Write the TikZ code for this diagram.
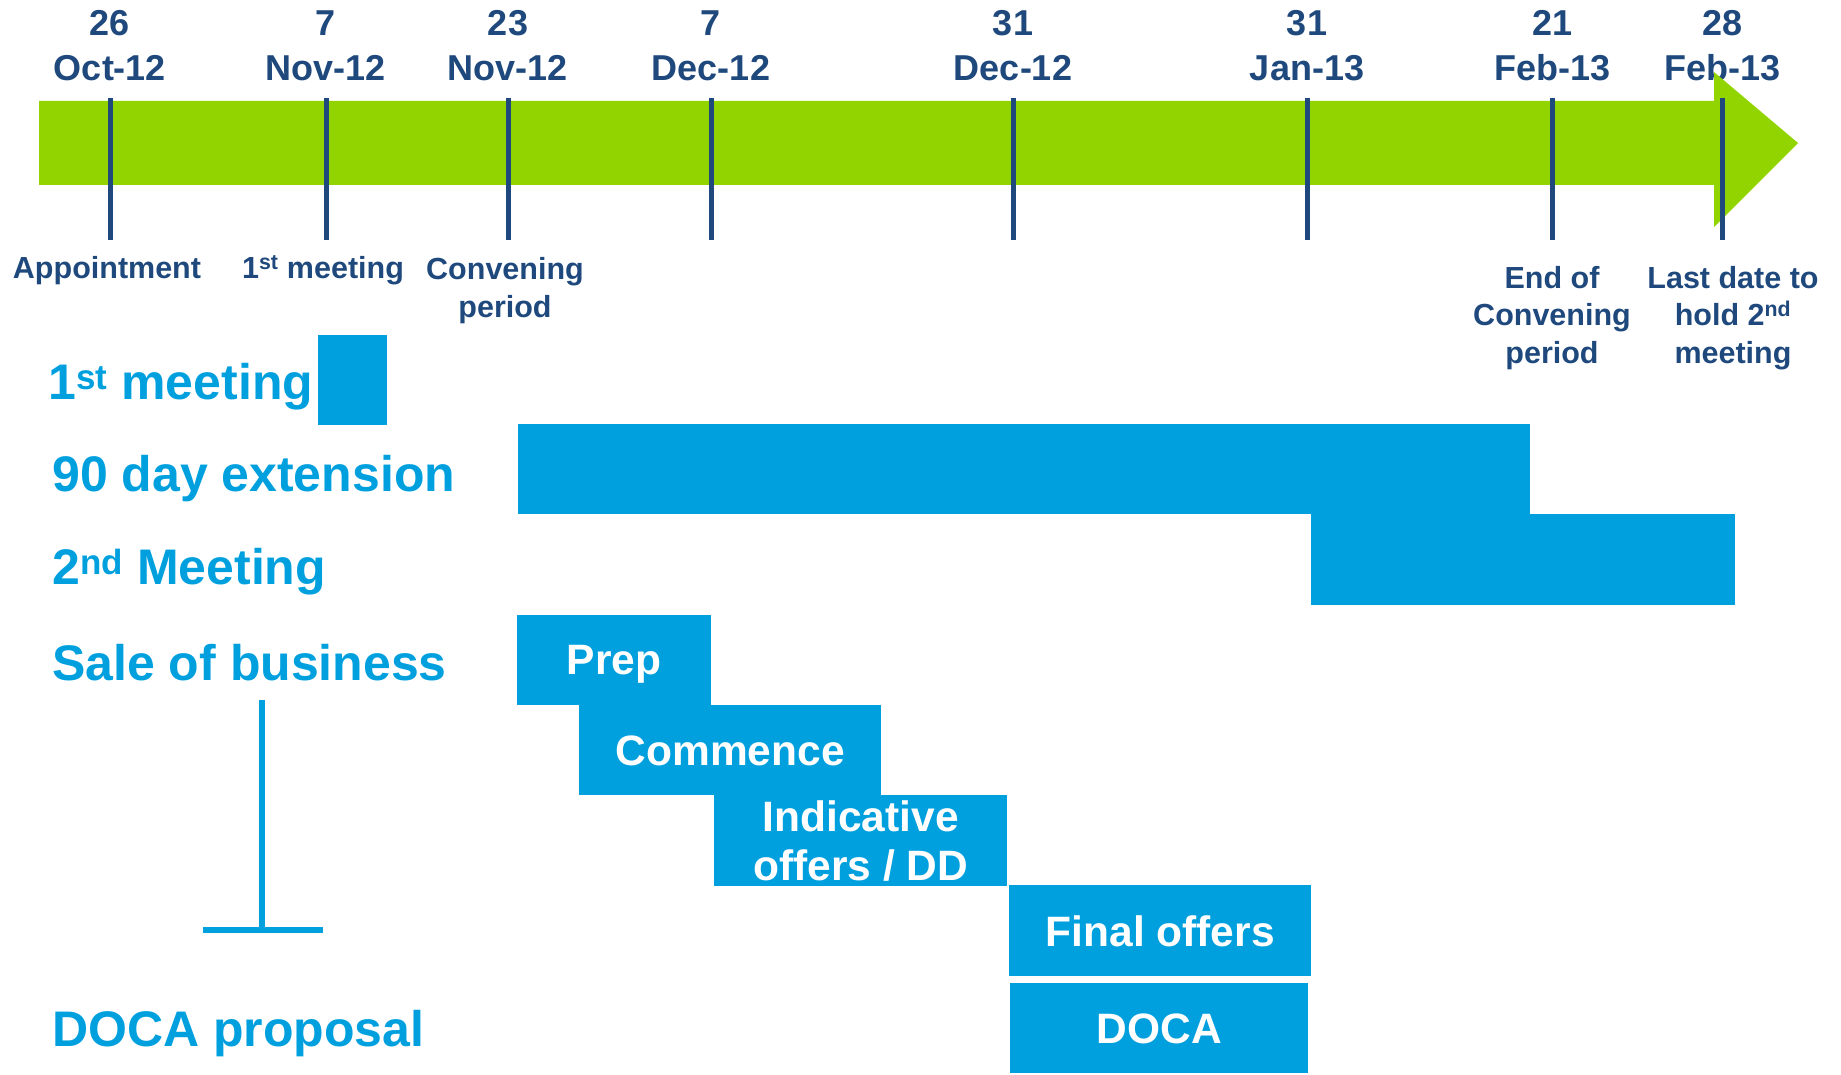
\documentclass[tikz,border=0pt]{standalone}
\usepackage{fontspec}
\setmainfont{Liberation Sans}
\definecolor{tlnavy}{RGB}{31,73,125}
\definecolor{tlgreen}{RGB}{146,212,0}
\definecolor{tlblue}{RGB}{0,160,223}
\tikzset{
every picture/.style={
x=1pt, y=-1pt
},
datelbl/.style={tlnavy, font=\fontsize{36}{36}\selectfont\bfseries, anchor=base, inner sep=0pt},
eventlbl/.style={tlnavy, font=\fontsize{30.5}{37.5}\selectfont\bfseries, anchor=base, align=center, inner sep=0pt},
rowlbl/.style={tlblue, font=\fontsize{50}{50}\selectfont\bfseries, anchor=base west, inner sep=0pt},
bar/.style={fill=tlblue, text=white, font=\fontsize{42.5}{49}\selectfont\bfseries, align=center, anchor=north west, inner sep=0pt, text depth=0pt},
tick/.style={tlnavy, line width=5pt},
tbar/.style={tlblue, line width=6pt}
}

\begin{document}
\begin{tikzpicture}
\useasboundingbox (0,0) rectangle (1841,1075);

\foreach \x/\d/\m [count=\i] in {110/26/Oct-12, 326/7/Nov-12, 508/23/Nov-12, 711/7/Dec-12, 1013/31/Dec-12, 1307/31/Jan-13, 1552/21/Feb-13, 1722/28/Feb-13}{
  \node[datelbl] (d\i) at (\x,36) {\d};
  \node[datelbl] (m\i) at (\x,81) {\m};
  \coordinate (t\i) at (\x,98);
}

% timeline arrow
\fill[tlgreen] (39,101) -- (1714,101) -- (1714,72) -- (1798,143) -- (1714,227) -- (1714,185) -- (39,185) -- cycle;

\foreach \i in {1,...,8}{
  \draw[tick] (t\i) -- ++(0,142);
}

% multi-line labels sit on the baseline of their last line
\node[eventlbl] (e1) at (107,279) {Appointment};
\node[eventlbl] (e2) at (323,279) {1\textsuperscript{st} meeting};
\node[eventlbl] (e3) at (505,317) {Convening\\period};
\node[eventlbl] (e7) at (1552,363) {End of\\Convening\\period};
\node[eventlbl] (e8) at (1733,363) {Last date to\\hold 2\textsuperscript{nd}\\meeting};

\node[rowlbl] (r1) at (48,399) {1\textsuperscript{st} meeting};
\node[rowlbl] (r2) at (52,491) {90 day extension};
\node[rowlbl] (r3) at (52,584) {2\textsuperscript{nd} Meeting};
\node[rowlbl] (r4) at (52,680) {Sale of business};
\node[rowlbl] (r5) at (52,1046) {DOCA proposal};

\node[bar, minimum width=69pt, minimum height=90pt] (first) at (318,335) {};
\node[bar, minimum width=1012pt, minimum height=90pt] (ext) at (518,424) {};
\node[bar, minimum width=424pt, minimum height=91pt] (second) at (1311,514) {};
\node[bar, minimum width=194pt, minimum height=90pt] (prep) at (517,615) {Prep};
\node[bar, minimum width=302pt, minimum height=90pt] (comm) at (579,705) {Commence};
\node[bar, minimum width=293pt, minimum height=91pt] (ind) at (714,795) {Indicative\\offers / DD};
\node[bar, minimum width=302pt, minimum height=91pt] (final) at (1009,885) {Final offers};
\node[bar, minimum width=298pt, minimum height=90pt] (doca) at (1010,983) {DOCA};

\coordinate (tt) at (262,700);
\coordinate (tb) at (262,930);
\draw[tbar] (tt) -- (tb);
\draw[tbar] ([xshift=-59pt]tb) -- ([xshift=61pt]tb);
\end{tikzpicture}
\end{document}
